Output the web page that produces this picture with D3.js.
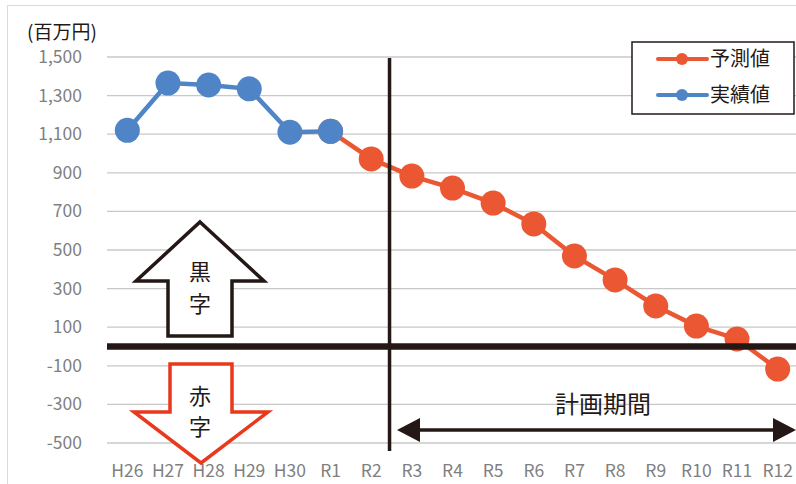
<!DOCTYPE html>
<html>
<head>
<meta charset="utf-8">
<script src="https://cdn.jsdelivr.net/npm/d3@7"></script>
<style>
  body { margin: 0; background: #fff; }
  text { font-family: "Noto Sans CJK JP", "Noto Sans", sans-serif; }
</style>
</head>
<body>
<div id="chart"></div>
<script>
var svgWidth = 796;
var svgHeight = 484;

// data
var years = ["H26", "H27", "H28", "H29", "H30", "R1", "R2", "R3", "R4", "R5", "R6", "R7", "R8", "R9", "R10", "R11", "R12"];
var actual = [1120, 1365, 1355, 1335, 1110, 1115, null, null, null, null, null, null, null, null, null, null, null];
var forecast = [null, null, null, null, null, 1115, 972, 883, 821, 743, 635, 469, 345, 210, 106, 39, -117];
var yTicks = [-500, -300, -100, 100, 300, 500, 700, 900, 1100, 1300, 1500];

var orange = "#EA5732";
var blue = "#4F85C7";

var svg = d3.select("#chart")
  .append("svg")
  .attr("width", svgWidth)
  .attr("height", svgHeight);

// outer frame
svg.append("rect")
  .attr("x", 7.5).attr("y", 5.5)
  .attr("width", 800).attr("height", 500)
  .attr("fill", "none")
  .attr("stroke", "#d9d9d9");

var x = d3.scaleBand()
  .domain(years)
  .range([107, 798]);

var y = d3.scaleLinear()
  .domain([-500, 1500])
  .range([443, 57]);

var cx = d => x(d) + x.bandwidth() / 2;
var fmt = d => d3.format(",")(d).replace("−", "-");

// grid
svg.append("g").selectAll("line")
  .data(yTicks)
  .enter()
  .append("line")
  .attr("x1", 107).attr("x2", 796)
  .attr("y1", d => y(d)).attr("y2", d => y(d))
  .attr("stroke", "#c8c8c8")
  .attr("stroke-width", 1.3);

// y labels
svg.append("g").selectAll("text")
  .data(yTicks)
  .enter()
  .append("text")
  .attr("x", 82)
  .attr("y", d => y(d) + 6)
  .attr("text-anchor", "end")
  .attr("fill", "#7f7f7f")
  .style("font-size", "17.5px")
  .text(fmt);

svg.append("text")
  .attr("x", 27).attr("y", 39)
  .attr("fill", "#231815")
  .style("font-size", "19px")
  .text("(百万円)");

// x labels
svg.append("g").selectAll("text")
  .data(years)
  .enter()
  .append("text")
  .attr("x", d => cx(d))
  .attr("y", 477)
  .attr("text-anchor", "middle")
  .attr("fill", "#7f7f7f")
  .style("font-size", "17.5px")
  .text(d => d);

// arrows (black / red)
function arrowUp(g, c, top, wingY, bottom, halfW, halfS, color) {
  var pts = [[c, top], [c + halfW, wingY], [c + halfS, wingY], [c + halfS, bottom],
             [c - halfS, bottom], [c - halfS, wingY], [c - halfW, wingY]];
  g.append("polygon")
    .attr("points", pts.map(p => p.join(",")).join(" "))
    .attr("fill", "#fff")
    .attr("stroke", color)
    .attr("stroke-width", 3.5);
}
var ag = svg.append("g");
arrowUp(ag, 200, 222, 281, 336, 64, 32, "#231815");
arrowUp(ag, 201, 463, 412, 364, 67, 31, "#E8391D");

[["黒", 280], ["字", 312], ["赤", 404], ["字", 435]].forEach(function (t) {
  ag.append("text")
    .attr("x", 200).attr("y", t[1])
    .attr("text-anchor", "middle")
    .attr("fill", "#231815")
    .style("font-size", "22px")
    .text(t[0]);
});

// lines
var line = d3.line()
  .defined(d => d.v != null)
  .x(d => cx(d.k))
  .y(d => y(d.v));

function series(vals, color) {
  var data = years.map((k, i) => ({ k: k, v: vals[i] }));
  svg.append("path")
    .datum(data)
    .attr("d", line)
    .attr("fill", "none")
    .attr("stroke", color)
    .attr("stroke-width", 4.5);
  svg.append("g").selectAll("circle")
    .data(data.filter(d => d.v != null))
    .enter()
    .append("circle")
    .attr("cx", d => cx(d.k))
    .attr("cy", d => y(d.v))
    .attr("r", 12.5)
    .attr("fill", color);
}
series(forecast, orange);
series(actual, blue);

// zero line
svg.append("line")
  .attr("x1", 107).attr("x2", 796)
  .attr("y1", y(0)).attr("y2", y(0))
  .attr("stroke", "#231815")
  .attr("stroke-width", 6.5);

// plan boundary
var bx = x("R3");
svg.append("line")
  .attr("x1", bx - 2).attr("x2", bx - 2)
  .attr("y1", 58).attr("y2", 451)
  .attr("stroke", "#231815")
  .attr("stroke-width", 3.5);

// planning period double arrow
var ay = 430;
svg.append("line")
  .attr("x1", 410).attr("x2", 782)
  .attr("y1", ay).attr("y2", ay)
  .attr("stroke", "#231815")
  .attr("stroke-width", 3.5);
svg.append("polygon")
  .attr("points", `397,${ay} 420,${ay - 12} 420,${ay + 12}`)
  .attr("fill", "#231815");
svg.append("polygon")
  .attr("points", `796,${ay} 773,${ay - 12} 773,${ay + 12}`)
  .attr("fill", "#231815");
svg.append("text")
  .attr("x", 603).attr("y", 413)
  .attr("text-anchor", "middle")
  .attr("fill", "#231815")
  .style("font-size", "24px")
  .text("計画期間");

// legend
var lg = svg.append("g");
lg.append("rect")
  .attr("x", 632).attr("y", 42)
  .attr("width", 162).attr("height", 72)
  .attr("fill", "#fff")
  .attr("stroke", "#231815")
  .attr("stroke-width", 1.5);
[["予測値", orange, 59], ["実績値", blue, 95]].forEach(function (e) {
  lg.append("line")
    .attr("x1", 658).attr("x2", 707)
    .attr("y1", e[2]).attr("y2", e[2])
    .attr("stroke", e[1])
    .attr("stroke-width", 4)
    .attr("stroke-linecap", "round");
  lg.append("circle")
    .attr("cx", 682).attr("cy", e[2])
    .attr("r", 6)
    .attr("fill", e[1]);
  lg.append("text")
    .attr("x", 710).attr("y", e[2] + 7)
    .attr("fill", "#231815")
    .style("font-size", "20px")
    .text(e[0]);
});
</script>
</body>
</html>
